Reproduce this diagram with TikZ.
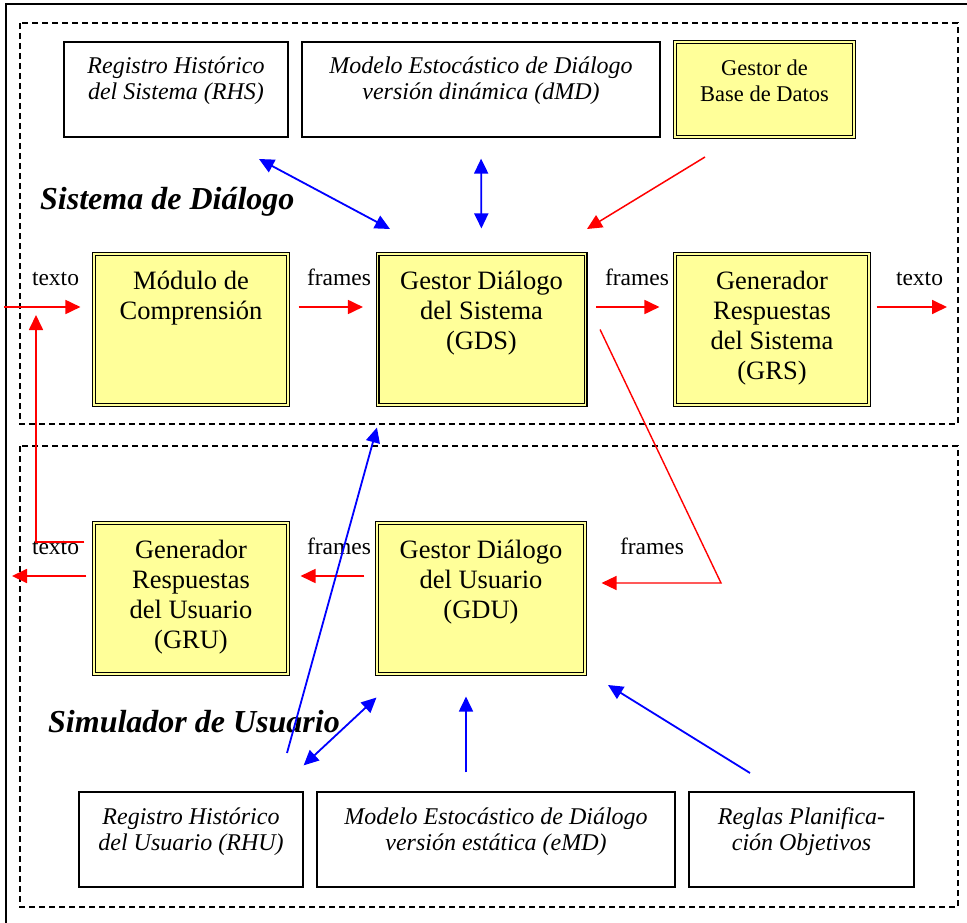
\documentclass[tikz,border=0pt]{standalone}
\usepackage{fontspec}
\setmainfont{Liberation Serif}
\usetikzlibrary{arrows.meta}
\definecolor{boxyellow}{HTML}{FFFF99}

\begin{document}
\begin{tikzpicture}[x=1pt,y=-1pt,
	boxtext/.style n args={3}{
	inner sep=0pt,
	execute at begin node={\begin{minipage}[c][#2][t]{#1}\centering\rule{0pt}{#3}},
	execute at end node={\end{minipage}}
	},infobox/.style={
	boxtext={#1}{95pt}{32pt},
	draw=black,line width=1.3pt,fill=white,
	font=\fontsize{24}{26}\selectfont\itshape
	},sysbox/.style={
	boxtext={#1}{151pt}{35.5pt},
	draw=black,line width=1.1pt,double=boxyellow,double distance=1.8pt,
	fill=boxyellow,
	font=\fontsize{26.5}{30}\selectfont
	},dbbox/.style={
	boxtext={179pt}{95pt}{34pt},
	draw=black,line width=1.1pt,double=boxyellow,double distance=1.8pt,
	fill=boxyellow,
	font=\fontsize{22.5}{26}\selectfont
	},heading/.style={
	anchor=base west,inner sep=0pt,
	font=\fontsize{32}{36}\selectfont\bfseries\itshape
	},lbl/.style={
	anchor=base,inner sep=0pt,
	font=\fontsize{23.5}{26}\selectfont
	},sigflow/.style={
	draw=red,line width=1.8pt,-{Triangle[length=15pt,width=14pt]}
	},ctrl/.style={
	draw=blue,line width=1.8pt,-{Triangle[length=15pt,width=14pt]}
	},ctrlboth/.style={
	draw=blue,line width=1.8pt,{Triangle[length=15pt,width=14pt]}-{Triangle[length=15pt,width=14pt]}
	},region/.style={
	draw=black,line width=1.5pt,dash pattern=on 6pt off 4pt
	}
]

\useasboundingbox (0,0) rectangle (967,923);
\draw[line width=2pt] (6,4) rectangle (975,932);
\draw[region] (20,23) rectangle (958,424);
\draw[region] (20,446) rectangle (958,907);

% Sistema de Dialogo
\node[infobox=224pt] (rhs) at (176,89.5) {Registro Histórico\\del Sistema (RHS)};
\node[infobox=358pt] (dmd) at (481,89.5) {Modelo Estocástico de Diálogo\\versión dinámica (dMD)};
\node[dbbox] (bd) at (764.5,89.5) {Gestor de\\Base de Datos};
\node[heading] (sd) at (40,209) {Sistema de Diálogo};

\node[sysbox=194pt] (mc) at (191,329.5) {Módulo de\\Comprensión};
\node[sysbox=208pt] (gds) at (481.5,329.5) {Gestor Diálogo\\del Sistema\\(GDS)};
\node[sysbox=194pt] (grs) at (772,329.5) {Generador\\Respuestas\\del Sistema\\(GRS)};

% Simulador de Usuario
\node[sysbox=194pt] (gru) at (191,598.5) {Generador\\Respuestas\\del Usuario\\(GRU)};
\node[sysbox=208pt] (gdu) at (481,598.5) {Gestor Diálogo\\del Usuario\\(GDU)};
\node[heading] (su) at (48,732) {Simulador de Usuario};

\node[infobox=224pt] (rhu) at (191,839.5) {Registro Histórico\\del Usuario (RHU)};
\node[infobox=358pt] (emd) at (496,839.5) {Modelo Estocástico de Diálogo\\versión estática (eMD)};
\node[infobox=225pt] (rpo) at (801.5,839.5) {Reglas Planifica-\\ción Objetivos};

\node[lbl] (t1) at (55.5,285) {texto};
\node[lbl] (f1) at (339,285) {frames};
\node[lbl] (f2) at (637,285) {frames};
\node[lbl] (t2) at (919.5,285) {texto};
\node[lbl] (t3) at (55.5,554) {texto};
\node[lbl] (f3) at (339,554) {frames};
\node[lbl] (f4) at (652,554) {frames};

\coordinate (txtin) at (4,307);
\coordinate (txtout) at (947,307);
\coordinate (usrout) at (12,576);
\coordinate (fb) at (36,315);
\coordinate (bend) at (721,583);
\coordinate (rhs-p) at (259,159);
\coordinate (gds-p1) at (390,229);
\coordinate (bd-p) at (705,157);
\coordinate (gds-p2) at (587,229);
\coordinate (rhu-p) at (287,753);
\coordinate (rpo-p) at (750,773);
\coordinate (gdu-p) at (608,685);

% frames y texto
\path	(txtin) edge[sigflow,shorten >=13pt] ([yshift=22.5pt]mc.west)
	([yshift=22.5pt]mc.east) edge[sigflow,shorten <=10pt,shorten >=14pt] ([yshift=22.5pt]gds.west)
	([yshift=22.5pt]gds.east) edge[sigflow,shorten <=10pt,shorten >=15pt] ([yshift=22.5pt]grs.west)
	([yshift=22.5pt]grs.east) edge[sigflow,shorten <=7pt] (txtout)
	([yshift=22.5pt]gdu.west) edge[sigflow,shorten <=12pt,shorten >=12pt] ([yshift=22.5pt]gru.east)
	([yshift=22.5pt]gru.west) edge[sigflow,shorten <=7pt] (usrout)
	(bd-p) edge[sigflow,line width=1.5pt] (gds-p2);
\draw[sigflow,line width=1.7pt,shorten <=9pt] ([yshift=56.5pt]gru.west) -| (fb);
\draw[sigflow,line width=1.4pt,shorten >=16pt] ([xshift=14pt]gds.east) -- (bend) -- ([yshift=15.5pt]gdu.east);

% modelos y registros
\path	(rhs-p) edge[ctrlboth] (gds-p1)
	(dmd.south) edge[ctrlboth,shorten <=21pt,shorten >=25pt] (gds.north)
	(rhu-p) edge[ctrl] ([yshift=-22pt]gds.south west)
	([yshift=26pt]rhu.north east) edge[ctrlboth] ([yshift=-23pt]gdu.south west)
	([xshift=-30pt]emd.north) edge[ctrl,shorten <=19pt,shorten >=22pt] ([xshift=-15pt]gdu.south)
	(rpo-p) edge[ctrl] (gdu-p);

\end{tikzpicture}
\end{document}
